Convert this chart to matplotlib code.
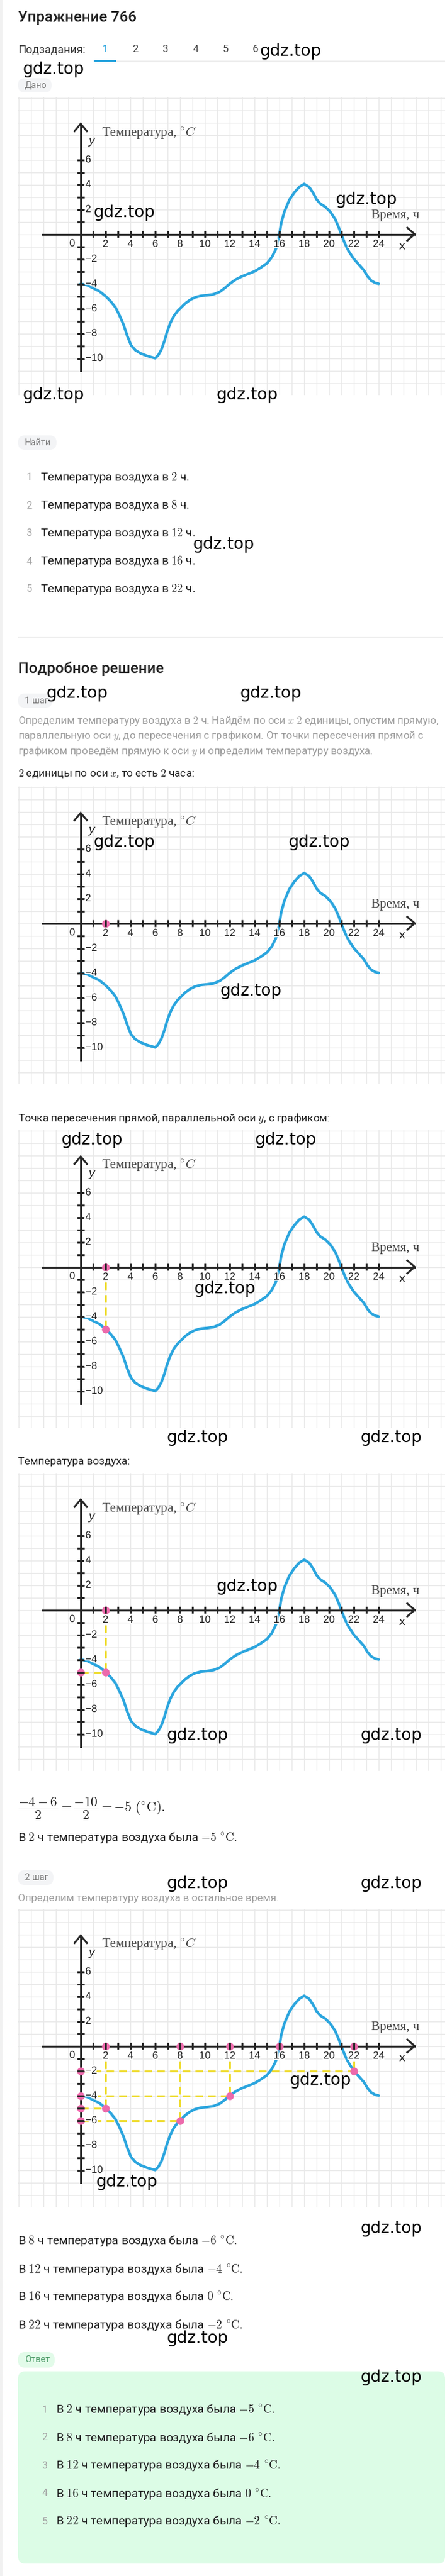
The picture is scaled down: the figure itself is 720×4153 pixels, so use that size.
import matplotlib
matplotlib.use("Agg")
import matplotlib.pyplot as plt
import matplotlib.patheffects as pe
from matplotlib.patches import FancyBboxPatch, Rectangle

# --- Data ---
hours = [0, 0.5, 1.0, 1.5, 2.0, 2.4, 2.8, 3.1, 3.45, 3.75, 4.05, 4.4, 4.8, 5.3, 5.7,
         6.0, 6.25, 6.5, 6.75, 6.95, 7.2, 7.5, 7.8, 8.0, 8.4, 8.8, 9.2, 9.7, 10.2,
         10.7, 11.2, 11.6, 12.0, 12.5, 13.0, 13.5, 14.0, 14.5, 15.0, 15.4, 15.7,
         15.9, 16.0, 16.15, 16.4, 16.8, 17.2, 17.6, 18.0, 18.4, 18.7, 19.0, 19.3,
         19.7, 20.1, 20.5, 20.8, 21.0, 21.3, 21.6, 22.0, 22.4, 22.8, 23.1, 23.4,
         23.7, 24.0]
temps = [-4.0, -4.1, -4.35, -4.6, -5.0, -5.4, -5.9, -6.5, -7.3, -8.2, -8.95, -9.35,
         -9.6, -9.8, -9.92, -10.0, -9.75, -9.3, -8.6, -7.9, -7.2, -6.6, -6.2, -6.0,
         -5.6, -5.3, -5.1, -4.97, -4.92, -4.85, -4.65, -4.35, -4.0, -3.65, -3.4,
         -3.2, -3.0, -2.7, -2.35, -1.85, -1.25, -0.6, 0.0, 0.9, 1.8, 2.75, 3.35,
         3.8, 4.05, 3.8, 3.35, 2.8, 2.45, 2.2, 1.8, 1.2, 0.5, -0.05, -0.8, -1.4,
         -2.0, -2.45, -2.9, -3.4, -3.75, -3.92, -4.0]

x_tick_values = list(range(1, 25))
x_label_values = list(range(2, 25, 2))
y_tick_values = [v for v in range(-10, 7) if v != 0]
y_label_values = [6, 4, 2, -2, -4, -6, -8, -10]

query_hours = [2, 8, 12, 16, 22]
query_temps = [-5, -6, -4, 0, -2]

tabs = ["1", "2", "3", "4", "5", "6"]
find_items = ["Температура воздуха в $2$ ч.", "Температура воздуха в $8$ ч.",
              "Температура воздуха в $12$ ч.", "Температура воздуха в $16$ ч.",
              "Температура воздуха в $22$ ч."]
answers = ["В $2$ ч температура воздуха была $-5\\ ^{\\circ}\\mathrm{C}$.",
           "В $8$ ч температура воздуха была $-6\\ ^{\\circ}\\mathrm{C}$.",
           "В $12$ ч температура воздуха была $-4\\ ^{\\circ}\\mathrm{C}$.",
           "В $16$ ч температура воздуха была $0\\ ^{\\circ}\\mathrm{C}$.",
           "В $22$ ч температура воздуха была $-2\\ ^{\\circ}\\mathrm{C}$."]

# --- Layout (pixels) ---
W, H = 720, 4153
CHART_TOPS = [157, 1268, 1822, 2375, 3078]
WATERMARKS = [(419, 83), (37, 112), (540, 322), (151, 343), (37, 637), (349, 637),
              (310, 878), (75, 1118), (387, 1118), (151, 1358), (464, 1358),
              (354, 1598), (98, 1838), (410, 1838), (313, 2078), (269, 2318),
              (581, 2318), (349, 2558), (269, 2798), (581, 2798), (269, 3037),
              (581, 3037), (467, 3354), (155, 3518), (581, 3593), (269, 3770),
              (581, 3833)]

BLUE = "#2ba5de"
PINK = "#ec6aac"
YELLOW = "#eedb2a"
AXIS = "#262626"
GRID = "#e8e8e8"
DARK = "#1f1f1f"
GRAY = "#9d9d9d"

plt.rcParams["mathtext.fontset"] = "cm"
plt.rcParams["font.family"] = ["Roboto", "DejaVu Sans"]

fig = plt.figure(figsize=(W / 100, H / 100), dpi=100)
page = fig.add_axes([0, 0, 1, 1], zorder=0)
page.set_xlim(0, W)
page.set_ylim(H, 0)
page.axis("off")
page.add_patch(Rectangle((0, 0), 4, H, fc="#f1f1f1", ec="none"))


def txt(x, y, s, size=12, color=DARK, **kw):
    page.text(x, y, s, fontsize=size, color=color, va="center", ha=kw.pop("ha", "left"), **kw)


def badge(x0, y0, w, h, label, fc="#f3f4f6", tc="#7a7a7a"):
    page.add_patch(FancyBboxPatch((x0, y0), w, h, boxstyle="round,pad=0,rounding_size=11",
                                  fc=fc, ec="none"))
    txt(x0 + 11, y0 + h / 2, label, size=10.5, color=tc)


# --- Header ---
txt(29, 28, "Упражнение 766", size=17.5, weight="medium")
txt(29, 81, "Подзадания:", size=13, color="#333333")
for i, t in enumerate(tabs):
    txt(169 + 48.6 * i, 80, t, size=12, color=BLUE if i == 0 else "#444444", ha="center")
page.add_patch(Rectangle((187, 98), 530, 1, fc="#e6e6e6", ec="none"))
page.add_patch(Rectangle((151, 97), 36, 3, fc=BLUE, ec="none"))
badge(29, 126, 54, 23, "Дано")

badge(29, 702, 62, 23, "Найти")
for i, item in enumerate(find_items):
    y = 770 + 45 * i
    txt(47, y, str(i + 1), size=11.5, color="#a3a3a3", ha="center")
    txt(65, y, item, size=13.5)

page.add_patch(Rectangle((29, 1027), 684, 1, fc="#ececec", ec="none"))
txt(29, 1078, "Подробное решение", size=17.5, weight="medium")
badge(29, 1118, 55, 23, "1 шаг")
para = ["Определим температуру воздуха в $2$ ч. Найдём по оси $x$ $2$ единицы, опустим прямую,",
        "параллельную оси $y$, до пересечения с графиком. От точки пересечения прямой с",
        "графиком проведём прямую к оси $y$ и определим температуру воздуха."]
for i, line in enumerate(para):
    txt(29, 1162 + 24.5 * i, line, size=12.2, color=GRAY)
txt(29, 1247, "$2$ единицы по оси $x$, то есть $2$ часа:", size=12.5)
txt(29, 1803, "Точка пересечения прямой, параллельной оси $y$, с графиком:", size=12.5)
txt(29, 2357, "Температура воздуха:", size=12.5)
txt(29, 2916, r"$\dfrac{-4-6}{2}=\dfrac{-10}{2}=-5\ (^{\circ}\mathrm{C}).$", size=15.5)
txt(29, 2963, answers[0], size=13.8)
badge(29, 3015, 57, 24, "2 шаг")
txt(29, 3060, "Определим температуру воздуха в остальное время.", size=12.2, color=GRAY)
for i, a in enumerate(answers[1:]):
    txt(29, [3613, 3659, 3703, 3749][i], a, size=13.8)

badge(29, 3792, 59, 25, "Ответ", fc="#e2fbe9", tc="#4e9b68")
page.add_patch(FancyBboxPatch((29, 3823), 688, 310, boxstyle="round,pad=0,rounding_size=12",
                              fc="#dcfce6", ec="none"))
for i, a in enumerate(answers):
    y = 3885 + 45 * i
    txt(72, y, str(i + 1), size=11.5, color="#a3a3a3", ha="center")
    txt(90, y, a, size=13.8)


# --- Charts ---
def draw_chart(top, stage):
    ax = fig.add_axes([29 / W, 1 - (top + 480) / H, 688 / W, 480 / H], zorder=2)
    ax.set_xlim(-5.05, 29.35)
    ax.set_ylim(-12.975, 11.025)
    ax.axis("off")
    for gx in range(-5, 30):
        ax.axvline(gx, color=GRID, lw=1, zorder=0)
    for gy in range(-12, 12):
        ax.axhline(gy, color=GRID, lw=1, zorder=0)

    dash = dict(color=YELLOW, lw=2.2, ls=(0, (4, 2.7)), zorder=2)
    if stage == 4:
        sel = list(zip(query_hours, query_temps))
    elif stage >= 2:
        sel = [(query_hours[0], query_temps[0])]
    else:
        sel = []
    for h, t in sel:
        if t == 0:
            continue
        ax.plot([h, h], [-1.2, t], **dash)
        if stage >= 3:
            ax.plot([0, h], [t, t], **dash)

    ax.plot(hours, temps, color=BLUE, lw=3.1, solid_capstyle="round",
            solid_joinstyle="round", zorder=3)

    # axes with open arrow heads
    ax.plot([-3.1, 26.9], [0, 0], color=AXIS, lw=2.2, zorder=4)
    ax.plot([0, 0], [-11, 8.9], color=AXIS, lw=2.2, zorder=4)
    ax.plot([26.3, 26.9, 26.3], [0.52, 0, -0.52], color=AXIS, lw=2.2, zorder=4,
            solid_joinstyle="miter")
    ax.plot([-0.5, 0, 0.5], [8.3, 8.9, 8.3], color=AXIS, lw=2.2, zorder=4,
            solid_joinstyle="miter")

    # pink marks
    mk = dict(marker="o", ms=8, color=PINK, ls="none", zorder=5)
    if stage >= 1:
        xs = query_hours if stage == 4 else query_hours[:1]
        ax.plot(xs, [0] * len(xs), **mk)
    if stage >= 3:
        ys = [t for t in query_temps if t != 0] if stage == 4 else query_temps[:1]
        ax.plot([0] * len(ys), ys, **mk)
    if stage >= 2:
        pts = [(h, t) for h, t in sel if t != 0]
        ax.plot([p[0] for p in pts], [p[1] for p in pts], **mk)

    ax.vlines(x_tick_values, -0.28, 0.28, color=AXIS, lw=2.2, zorder=6)
    ax.hlines(y_tick_values, -0.32, 0.32, color=AXIS, lw=2.2, zorder=6)

    halo = [pe.withStroke(linewidth=3, foreground="white")]
    lab = dict(fontsize=12, color="#222222", family=["Liberation Sans", "DejaVu Sans"],
               zorder=7, path_effects=halo)
    for v in x_label_values:
        ax.text(v, -0.8, str(v), ha="center", va="center", **lab)
    ax.text(-0.45, -0.75, "0", ha="right", va="center", **lab)
    for v in y_label_values:
        ax.text(0.37, v, str(v).replace("-", "\u2212"), ha="left", va="center", **lab)
    ax.text(0.85, 7.5, "y", ha="center", va="center", fontsize=14, style="italic",
            color="#222222", family=["Liberation Sans", "DejaVu Sans"], zorder=7)
    ax.text(25.9, -1.0, "x", ha="center", va="center", fontsize=14,
            color="#222222", family=["Liberation Sans", "DejaVu Sans"], zorder=7)
    ax.text(1.7, 8.2, "Температура, $^{\\circ}C$", ha="left", va="center", fontsize=15,
            color="#444444", family=["Liberation Serif", "DejaVu Serif"], zorder=7)
    ax.text(27.3, 1.5, "Время, ч", ha="right", va="center", fontsize=15,
            color="#444444", family=["Liberation Serif", "DejaVu Serif"], zorder=7)


for stage, top in enumerate(CHART_TOPS):
    draw_chart(top, stage)

# --- Watermarks on top ---
over = fig.add_axes([0, 0, 1, 1], zorder=10)
over.set_xlim(0, W)
over.set_ylim(H, 0)
over.axis("off")
for x, y in WATERMARKS:
    over.text(x, y, "gdz.top", fontsize=19, color="black", va="center", ha="left",
              family=["DejaVu Sans"])

fig.savefig("out.png", dpi=100)
